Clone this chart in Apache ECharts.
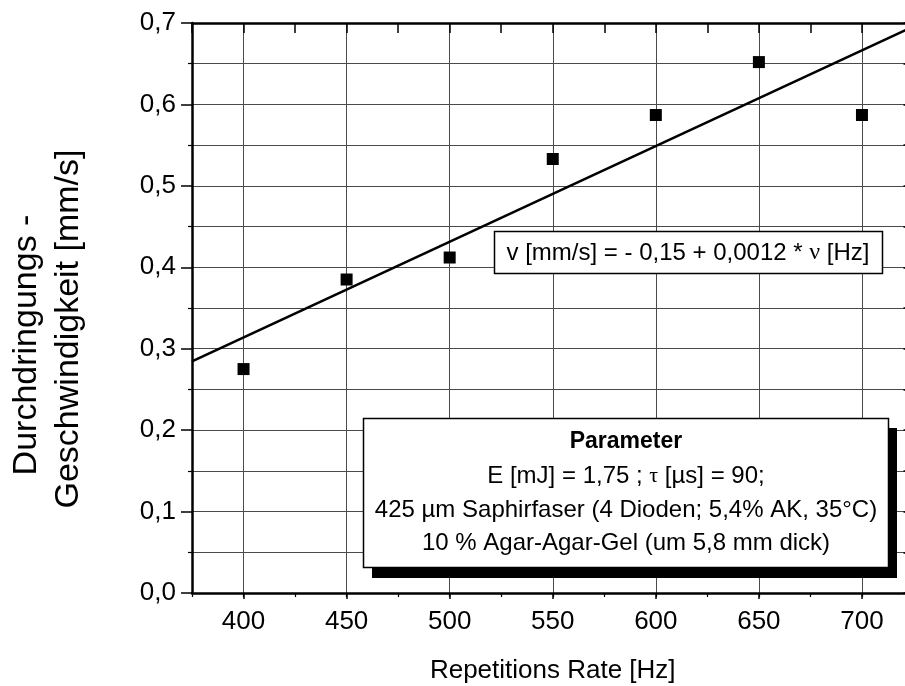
<!DOCTYPE html>
<html>
<head>
<meta charset="utf-8">
<script src="https://cdn.jsdelivr.net/npm/echarts@6/dist/echarts.min.js"></script>
<style>
  html, body { margin: 0; padding: 0; background: #fff; }
  #chart { width: 905px; height: 686px; }
</style>
</head>
<body>
<div id="chart"></div>
<script>
// Measured penetration speed versus repetition rate
const repRate = [400, 450, 500, 550, 600, 650, 700];           // Hz
const speed = [0.275, 0.385, 0.412, 0.533, 0.587, 0.652, 0.587]; // mm/s

// Axis ranges and tick labels
const xRange = [375, 725];
const yRange = [0, 0.7];
const xMajorTicks = [400, 450, 500, 550, 600, 650, 700];
const yTickLabels = ['0,0', '0,1', '0,2', '0,3', '0,4', '0,5', '0,6', '0,7'];

// Annotation texts
const fitText = 'v [mm/s] = - 0,15 + 0,0012 * {g|ν} [Hz]';
const paramTitle = 'Parameter';
const paramLines = [
  'E [mJ] = 1,75 ; {g|τ} [µs] = 90;',
  '425 µm Saphirfaser (4 Dioden; 5,4% AK, 35°C)',
  '10 % Agar-Agar-Gel (um 5,8 mm dick)'
];

// Least-squares straight line through the measured points
function linearFit(xs, ys) {
  const n = xs.length;
  const mx = xs.reduce((a, b) => a + b, 0) / n;
  const my = ys.reduce((a, b) => a + b, 0) / n;
  let sxy = 0, sxx = 0;
  for (let i = 0; i < n; i++) {
    sxy += (xs[i] - mx) * (ys[i] - my);
    sxx += (xs[i] - mx) * (xs[i] - mx);
  }
  const slope = sxy / sxx;
  return { slope, intercept: my - slope * mx };
}
const fit = linearFit(repRate, speed);
const fitLine = xRange.map(x => [x, fit.intercept + fit.slope * x]);

const FONT = 'Liberation Sans, Arial, sans-serif';
const gridColor = '#4a4a4a';

const chart = echarts.init(document.getElementById('chart'), null, { renderer: 'canvas' });

const option = {
  backgroundColor: '#ffffff',
  animation: false,
  // the plot frame runs a little past the right edge of the page
  grid: { left: 192, top: 23, width: 721.5, height: 570,
          containLabel: false, outerBoundsMode: 'none' },
  xAxis: [
    {
      type: 'value', position: 'bottom', min: xRange[0], max: xRange[1], interval: 25,
      axisLine: { show: true, onZero: false, lineStyle: { color: '#000', width: 2.5 } },
      axisTick: { show: true, inside: false, length: 6, customValues: xMajorTicks,
                  lineStyle: { color: '#000', width: 1.5 } },
      axisLabel: { show: true, customValues: xMajorTicks, margin: 16,
                   fontSize: 26, color: '#000', fontFamily: FONT },
      splitLine: { show: true, lineStyle: { color: gridColor, width: 1 } },
      name: 'Repetitions Rate [Hz]', nameLocation: 'middle', nameGap: 65,
      nameTextStyle: { fontSize: 26, color: '#000', fontFamily: FONT }
    },
    {
      type: 'value', position: 'bottom', min: xRange[0], max: xRange[1], interval: 25,
      axisLine: { show: false },
      axisTick: { show: true, inside: false, length: 4, lineStyle: { color: '#000', width: 1.2 } },
      axisLabel: { show: false },
      splitLine: { show: false }
    },
    {
      type: 'value', position: 'top', min: xRange[0], max: xRange[1], interval: 25,
      axisLine: { show: true, onZero: false, lineStyle: { color: '#000', width: 2.5 } },
      axisTick: { show: true, inside: true, length: 10, lineStyle: { color: '#000', width: 1.5 } },
      axisLabel: { show: false },
      splitLine: { show: false }
    }
  ],
  yAxis: [
    {
      type: 'value', position: 'left', min: yRange[0], max: yRange[1], interval: 0.1,
      axisLine: { show: true, onZero: false, lineStyle: { color: '#000', width: 2.5 } },
      axisTick: { show: true, inside: false, length: 11, lineStyle: { color: '#000', width: 1.5 } },
      minorTick: { show: true, splitNumber: 2, length: 4, lineStyle: { color: '#000', width: 1.2 } },
      axisLabel: { show: true, margin: 16, fontSize: 26, color: '#000', fontFamily: FONT,
                   formatter: v => yTickLabels[Math.round(v * 10)] },
      splitLine: { show: true, lineStyle: { color: gridColor, width: 1 } },
      minorSplitLine: { show: true, lineStyle: { color: gridColor, width: 1 } }
    },
    {
      type: 'value', position: 'right', min: yRange[0], max: yRange[1], interval: 0.05,
      axisLine: { show: true, onZero: false, lineStyle: { color: '#000', width: 2.5 } },
      axisTick: { show: true, inside: true, length: 10, lineStyle: { color: '#000', width: 1.5 } },
      axisLabel: { show: false },
      splitLine: { show: false }
    }
  ],
  series: [
    {
      name: 'Fit', type: 'line', xAxisIndex: 0, yAxisIndex: 0,
      data: fitLine, showSymbol: false, symbol: 'none',
      lineStyle: { color: '#000', width: 2.6 }, z: 3, silent: true
    },
    {
      name: 'Messwerte', type: 'scatter', xAxisIndex: 0, yAxisIndex: 0,
      data: repRate.map((x, i) => [x, speed[i]]),
      symbol: 'rect', symbolSize: 12,
      itemStyle: { color: '#000', opacity: 1 }, z: 4, silent: true
    }
  ],
  graphic: [
    // y axis title, two lines
    {
      type: 'text', x: 27, y: 345, rotation: Math.PI / 2,
      style: { text: 'Durchdringungs -', font: '34px ' + FONT, fill: '#000',
               align: 'center', verticalAlign: 'middle' }, z: 10
    },
    {
      type: 'text', x: 69, y: 329, rotation: Math.PI / 2,
      style: { text: 'Geschwindigkeit [mm/s]', font: '34px ' + FONT, fill: '#000',
               align: 'center', verticalAlign: 'middle' }, z: 10
    },
    // fit equation box
    {
      type: 'rect', shape: { x: 494.5, y: 231.5, width: 388, height: 42 },
      style: { fill: '#fff', stroke: '#000', lineWidth: 1.5 }, z: 10
    },
    {
      type: 'text', x: 688, y: 253,
      style: { text: fitText, fill: '#000', font: '24px ' + FONT,
               align: 'center', verticalAlign: 'middle',
               rich: { g: { fontFamily: 'Liberation Serif, DejaVu Serif, serif', fontSize: 24 } } },
      z: 11
    },
    // parameter box with drop shadow
    {
      type: 'rect', shape: { x: 372, y: 428, width: 525, height: 150 },
      style: { fill: '#000' }, z: 10
    },
    {
      type: 'rect', shape: { x: 363.5, y: 418.5, width: 525, height: 149 },
      style: { fill: '#fff', stroke: '#000', lineWidth: 1.5 }, z: 11
    },
    {
      type: 'text', x: 626, y: 442,
      style: { text: paramTitle, fill: '#000', font: 'bold 23px ' + FONT,
               align: 'center', verticalAlign: 'middle' }, z: 12
    },
    {
      type: 'text', x: 626, y: 476,
      style: { text: paramLines[0], fill: '#000', font: '24px ' + FONT,
               align: 'center', verticalAlign: 'middle',
               rich: { g: { fontFamily: 'Liberation Serif, DejaVu Serif, serif', fontSize: 22 } } },
      z: 12
    },
    {
      type: 'text', x: 626, y: 510,
      style: { text: paramLines[1], fill: '#000', font: '24px ' + FONT,
               align: 'center', verticalAlign: 'middle' }, z: 12
    },
    {
      type: 'text', x: 626, y: 543,
      style: { text: paramLines[2], fill: '#000', font: '24px ' + FONT,
               align: 'center', verticalAlign: 'middle' }, z: 12
    }
  ]
};

chart.setOption(option);
</script>
</body>
</html>
